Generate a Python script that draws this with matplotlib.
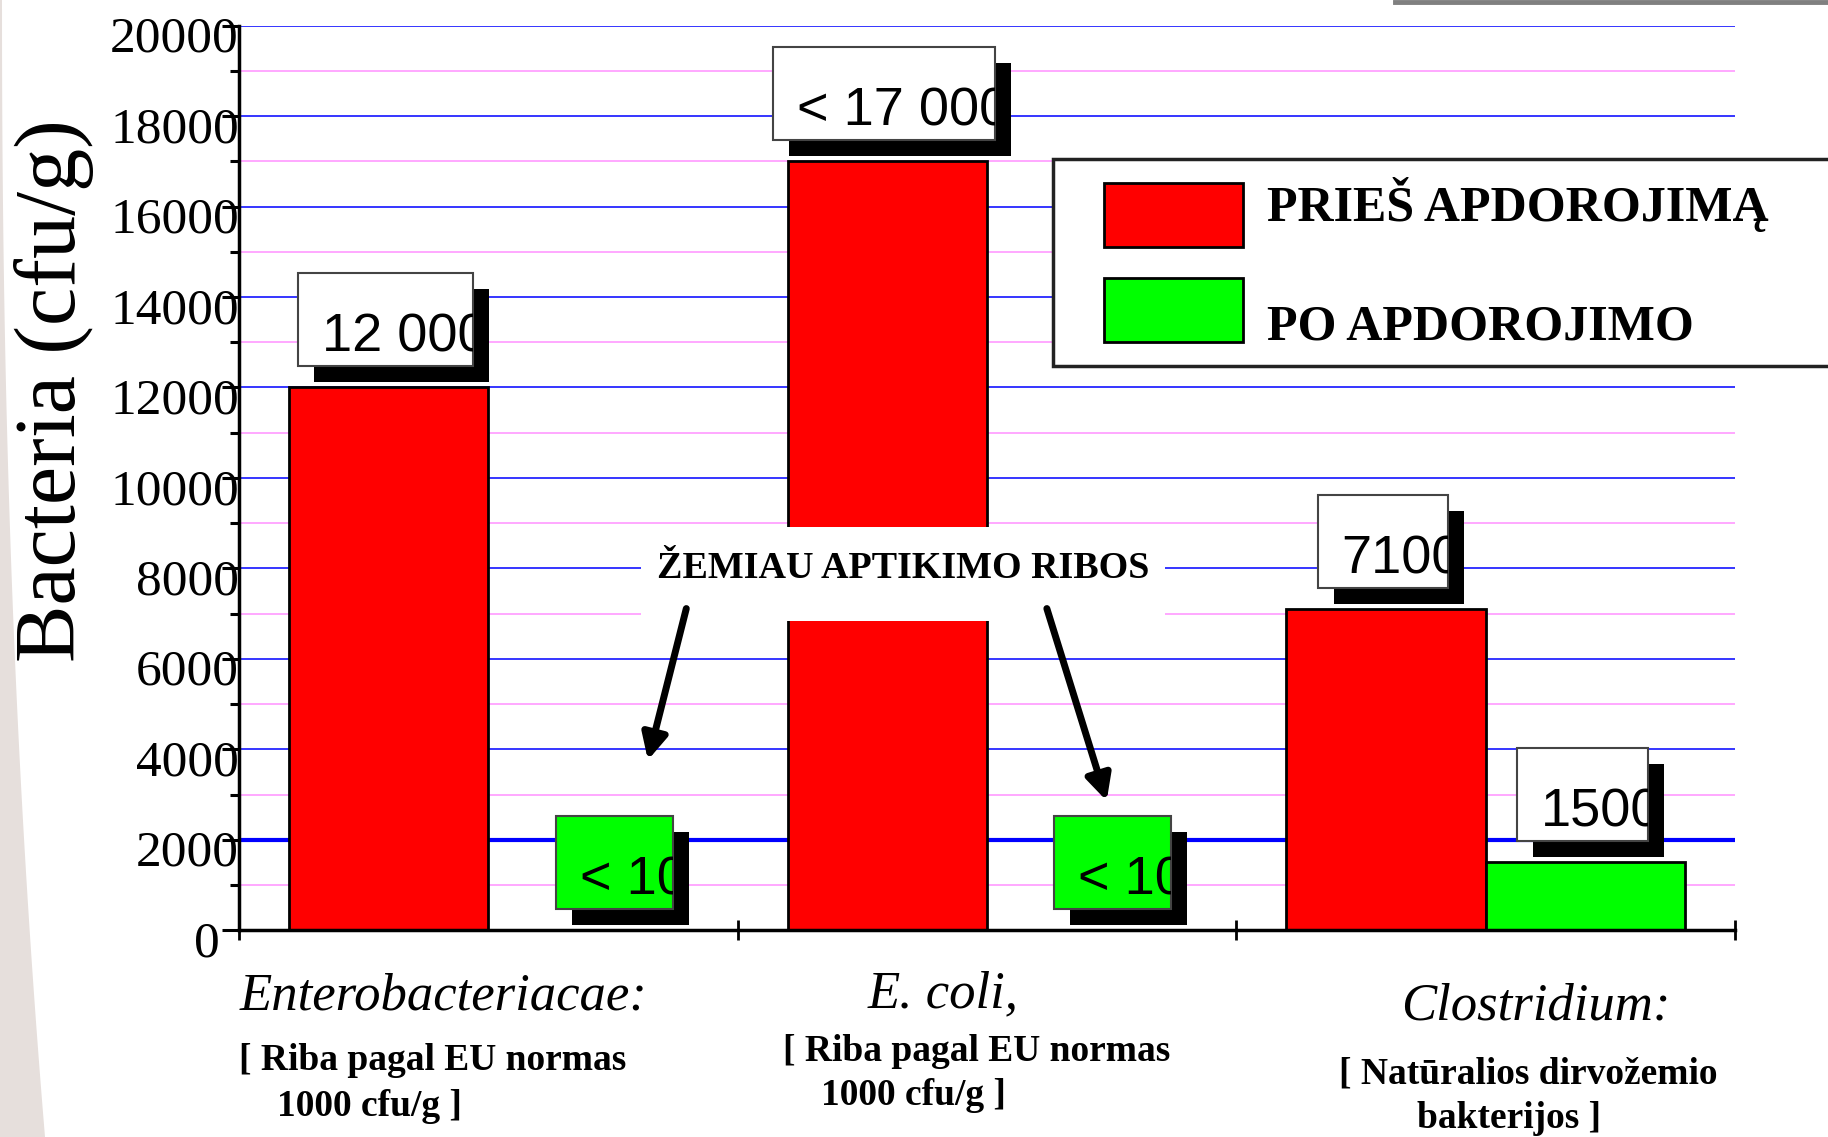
import matplotlib
matplotlib.use("Agg")
import matplotlib.pyplot as plt
from matplotlib.patches import Rectangle, Polygon
from matplotlib.lines import Line2D
from matplotlib.transforms import IdentityTransform, ScaledTranslation, blended_transform_factory
import numpy as np

plt.rcParams['font.family'] = ['Liberation Serif', 'DejaVu Serif']

# Duomenys
categories = ["Enterobacteriacae:", "E. coli,", "Clostridium:"]
notes = [["[ Riba pagal EU normas", "1000 cfu/g ]"],
         ["[ Riba pagal EU normas", "1000 cfu/g ]"],
         ["[ Natūralios dirvožemio", "bakterijos ]"]]
series = ["PRIEŠ APDOROJIMĄ", "PO APDOROJIMO"]
before = [12000, 17000, 7100]
after = [10, 10, 1500]
before_labels = ["12 000", "< 17 000", "7100"]
after_labels = ["< 10", "< 10", "1500"]
after_below_limit = [True, True, False]
limit_text = "ŽEMIAU APTIKIMO RIBOS"
y_major = np.arange(0, 20001, 2000)
y_minor = np.arange(1000, 20000, 2000)

RED = '#ff0000'
GREEN = '#00ff00'

# Matmenys pikseliais (paveikslas 1828x1137)
W, H = 1828, 1137
fig = plt.figure(figsize=(W / 100, H / 100), dpi=100)

# pilkas fonas kaireje (skaidres kraštas)
yy = np.linspace(0, 1137, 40)
xx = 2 + 43 * (yy / 1137) ** 2.2
edge = np.column_stack([xx / W, 1 - yy / H])
shade = np.vstack([[[0, 1]], edge, [[0, 0]]])
fig.add_artist(Polygon(shade, closed=True, transform=fig.transFigure,
                       fc='#e6dfdc', ec='none'))

ax = fig.add_axes([239 / W, 1 - 930.3 / H, (1735 - 239) / W, (930.3 - 25.6) / H])
ax.patch.set_alpha(0)

x = np.arange(len(categories))
bw = 0.4
ax.bar(x - bw / 2, before, bw, color=RED, edgecolor='black', lw=2, zorder=2)
ax.bar(x + bw / 2, after, bw, color=GREEN, edgecolor='black', lw=2, zorder=2)

ax.set_xlim(-0.5, len(categories) - 0.5)
ax.set_ylim(0, 20000)

# osys
ax.set_xticks(np.arange(len(categories) + 1) - 0.5)
ax.set_xticklabels([])
ax.tick_params(axis='x', direction='inout', length=14, width=2)
ax.set_yticks(y_major)
ax.set_yticks(y_minor, minor=True)
ax.tick_params(axis='y', which='major', direction='out', length=12.5, width=2.2,
               pad=-12.5, labelsize=37)
ax.tick_params(axis='y', which='minor', direction='out', length=6.5, width=2.2)
ax.grid(axis='y', which='major', color='#3535ff', lw=1.4)
ax.grid(axis='y', which='minor', color='#ff99ff', lw=1.2)
ax.set_axisbelow(True)
ax.yaxis.get_major_ticks()[1].gridline.set(lw=3, color='#0000ff')

for s in ['top', 'right']:
    ax.spines[s].set_visible(False)
for s in ['left', 'bottom']:
    ax.spines[s].set_linewidth(2.5)

ax.set_ylabel("Bacteria (cfu/g)", fontsize=62)
ax.yaxis.label.set_va('center')
ax.yaxis.set_label_coords(-0.1237, 0.597)

# kategoriju pavadinimai po asimi
trans = blended_transform_factory(ax.transData, fig.transFigure)
cat_dx = [-0.09, -0.087, 0.10]
cat_base = [1010, 1007, 1020]
for i, name in enumerate(categories):
    ax.text(i + cat_dx[i], 1 - cat_base[i] / H, name, transform=trans,
            ha='center', va='baseline', fontsize=38, style='italic')

note_dx = [[-0.5, -0.423], [-0.41, -0.333], [0.085, 0.046]]
note_base = [[1070, 1116], [1061, 1105], [1084, 1128.5]]
note_ha = ['left', 'left', 'center']
for i, lines in enumerate(notes):
    for j, line in enumerate(lines):
        ax.text(i + note_dx[i][j], 1 - note_base[i][j] / H, line, transform=trans,
                ha=note_ha[i], va='baseline', fontsize=27, weight='bold')

# uzrasas ir rodykles
lim_txt = ax.text(0.832, 8000, limit_text, ha='center', va='center', fontsize=27.4,
                  weight='bold', zorder=6)
arrow_tails = [(0.397, 7113), (1.12, 7113)]
arrow_tips = [(0.32, 3763), (1.24, 2861)]
for tail, tip in zip(arrow_tails, arrow_tips):
    ax.annotate('', xy=tip, xytext=tail, zorder=7,
                arrowprops=dict(arrowstyle='-|>', lw=5, color='black',
                                mutation_scale=38, shrinkA=0, shrinkB=0))

fig.canvas.draw()
renderer = fig.canvas.get_renderer()

# baltas fonas po uzrasu
ext = lim_txt.get_window_extent(renderer)
_, y8 = ax.transData.transform((0, 8000))
ax.add_artist(Rectangle((ext.x0 - 16, y8 - 53), ext.width + 32, 94,
                        transform=IdentityTransform(), fc='white', ec='none', zorder=5.5))


# reiksmiu etiketes su seseliu
def value_box(xc, val, text, face, dx):
    px, py = ax.transData.transform((xc, val))
    bottom = py + 21
    t = ax.text(px + dx, bottom + 15, text, transform=IdentityTransform(),
                ha='center', va='baseline', fontsize=39,
                family='Liberation Sans', zorder=5, clip_on=True)
    e = t.get_window_extent(renderer)
    left, right = e.x0 - 24, e.x1 - 14
    shadow = Rectangle((left + 16, bottom - 16), right - left, 93,
                       transform=IdentityTransform(), fc='black', ec='none', zorder=3)
    box = Rectangle((left, bottom), right - left, 93, transform=IdentityTransform(),
                    fc=face, ec='#444444', lw=1.5, zorder=4)
    ax.add_artist(shadow)
    ax.add_artist(box)
    t.set_clip_path(box)


for i in range(len(categories)):
    value_box(x[i] - bw / 2, before[i], before_labels[i], 'white', 16)
    if after_below_limit[i]:
        value_box(x[i] + bw / 2, 0, after_labels[i], GREEN, 45)
    else:
        value_box(x[i] + bw / 2, after[i], after_labels[i], 'white', 16)

# legenda
fig.add_artist(Rectangle((1053 / W, 1 - 366 / H), (1850 - 1053) / W, (366 - 158.5) / H,
                         transform=fig.transFigure, fc='white', ec='#222222', lw=2.5))
for k, (name, col) in enumerate(zip(series, [RED, GREEN])):
    top = [183, 277.5][k]
    fig.add_artist(Rectangle((1104 / W, 1 - (top + 64) / H), 139 / W, 64 / H,
                             transform=fig.transFigure, fc=col, ec='black', lw=2))
    fig.text(1267 / W, 1 - [221.5, 340][k] / H, name, fontsize=36, weight='bold',
             va='baseline')

# pilka linija virsuje desineje
fig.add_artist(Line2D([1395 / W, 1], [1 - 2 / H, 1 - 2 / H], color='#808080', lw=3.5,
                      transform=fig.transFigure))

for k, lab in enumerate(ax.get_yticklabels()):
    dx = -14 / 72 if k == 0 else 0
    lab.set_transform(lab.get_transform() + ScaledTranslation(dx, -6 / 72, fig.dpi_scale_trans))

fig.savefig("out.png", dpi=100)
